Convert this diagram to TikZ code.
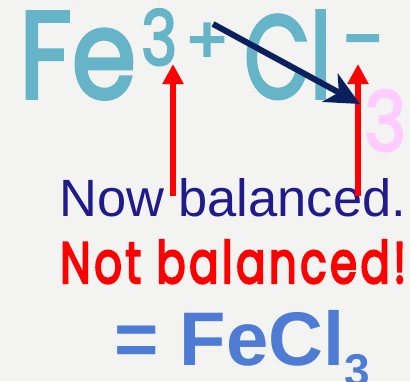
\documentclass[tikz,border=0pt]{standalone}
\usepackage{fontspec}
\setmainfont{Liberation Sans}
\newfontfamily\comicf{Poppins}[FakeBold=3]
\newfontfamily\comicg{Poppins}[FakeBold=4,LetterSpace=8]
\usetikzlibrary{arrows.meta}
\definecolor{bgc}{HTML}{F3F3F2}
\definecolor{teal}{HTML}{66B4C8}
\definecolor{pinkc}{HTML}{FFCCFF}
\definecolor{navyc}{HTML}{0A1F5E}
\definecolor{nowc}{HTML}{211A8A}
\definecolor{fecl}{HTML}{4E7CD5}
\begin{document}
\begin{tikzpicture}[x=1pt,y=-1pt,
  txt/.style={inner sep=0pt,anchor=base west},
  comic/.style={font=\comicf\fontsize{76}{76}\selectfont},
  comicb/.style={font=\comicg\fontsize{76}{76}\selectfont},
  redarrow/.style={draw=red,line width=5.5pt,-{Triangle[width=20pt,length=20pt]}},
  navyarrow/.style={draw=navyc,line width=6pt,-{Stealth[width=32pt,length=34pt,inset=10pt]}}]
\fill[bgc] (0,0) rectangle (410,381);
\useasboundingbox (0,0) rectangle (410,381);
\node[txt,text=teal,comic] (fe) at (19,98) {\resizebox{117pt}{86pt}{Fe}};
\node[txt,text=teal,comic] (sup3) at (141,65) {\resizebox{36pt}{56pt}{3}};
\node[txt,text=teal,comic,font=\comicf\fontsize{64}{64}\selectfont] (plus) at (185,63) {+};
\node[txt,text=teal,comic] (cl) at (244,98) {\resizebox{87pt}{87pt}{Cl}};
\node[txt,text=teal,comic] (minus) at (343,66) {-};
\node[txt,text=pinkc,comic] (sub3) at (364,151) {\resizebox{42pt}{61pt}{3}};
\node[txt,text=nowc,font=\fontsize{51}{51}\selectfont] (now) at (59,216) {\resizebox{347pt}{!}{Now balanced.}};
\node[txt,text=red,comicb] (notb) at (60,283) {\resizebox{346pt}{43pt}{Not balanced!}};
\node[txt,text=fecl,font=\bfseries\fontsize{76}{76}\selectfont] (eq) at (114,365) {= FeCl\raisebox{-0.28em}{\fontsize{46}{46}\selectfont 3}};
\coordinate (r1a) at (173,196);
\coordinate (r1b) at (173,64);
\coordinate (r2a) at (358,196);
\coordinate (r2b) at (358,64);
\coordinate (na) at (213,24);
\coordinate (nb) at (360,104);
\draw[redarrow] (r1a) -- (r1b);
\draw[redarrow] (r2a) -- (r2b);
\draw[navyarrow] (na) -- (nb);
\end{tikzpicture}
\end{document}
